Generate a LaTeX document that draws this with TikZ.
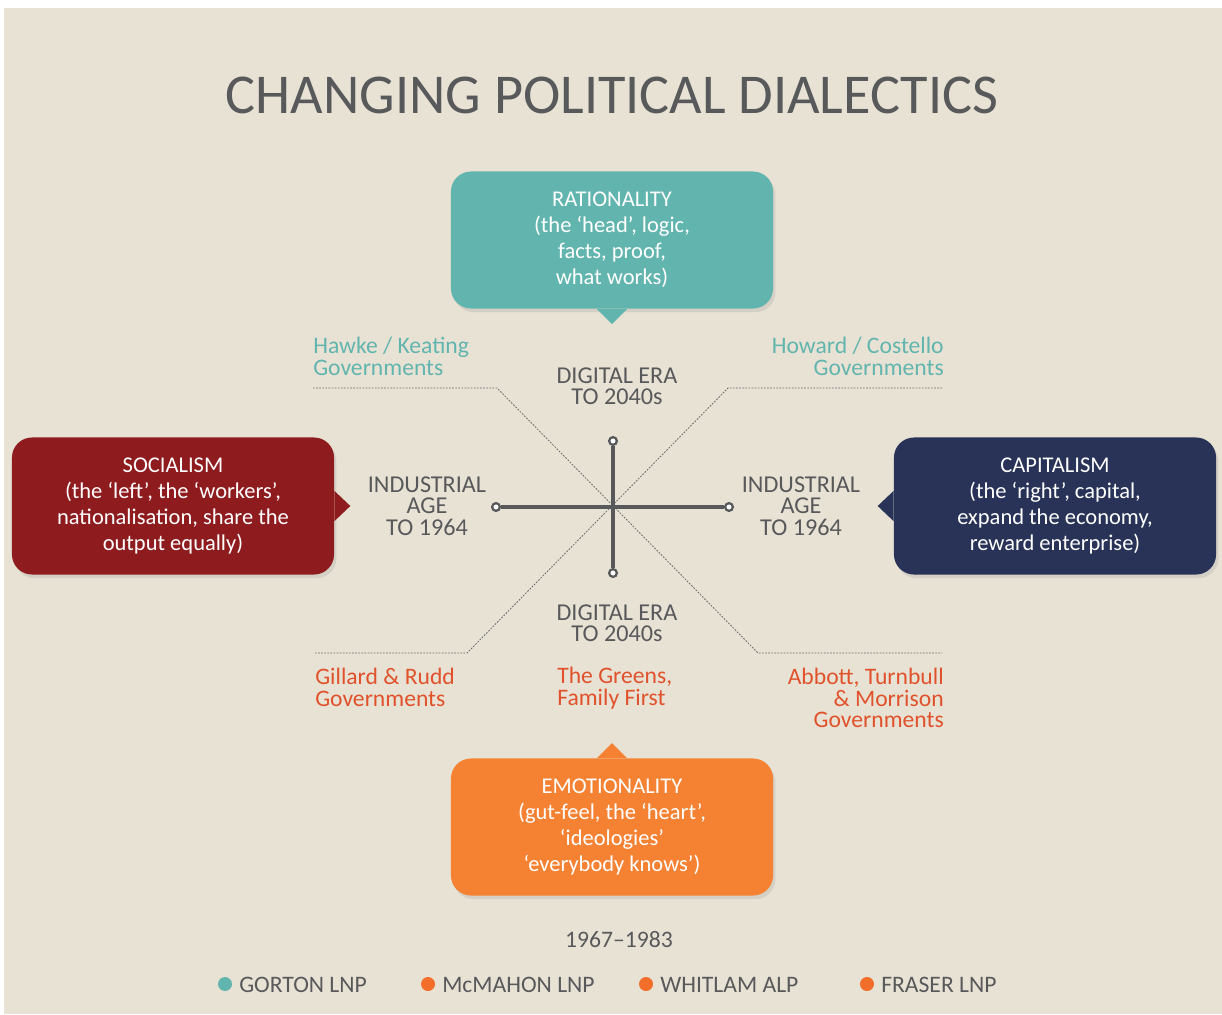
\documentclass[tikz,border=0pt]{standalone}
\usepackage{fontspec}
\setmainfont{Carlito}
\usepackage{xcolor}
\usetikzlibrary{shapes,arrows.meta,positioning,shadows}
\definecolor{bgcolor}{RGB}{232,226,213}
\definecolor{greycolor}{RGB}{88,89,91}
\definecolor{ratcolor}{RGB}{98,181,174}
\definecolor{soccolor}{RGB}{142,27,30}
\definecolor{capcolor}{RGB}{40,51,87}
\definecolor{emocolor}{RGB}{245,130,51}
\definecolor{govcolor}{RGB}{224,82,44}
\definecolor{dotcolor}{RGB}{242,110,42}

\begin{document}
\begin{tikzpicture}[
    x=0.025cm, y=-0.025cm,
    bubble/.style={rectangle, rounded corners=0.5cm, minimum width=8.05cm, minimum height=3.425cm,
        text=white, align=center, font=\fontsize{16}{18.5}\selectfont,
        drop shadow={opacity=0.18, shadow xshift=0.6mm, shadow yshift=-0.9mm}},
    era/.style={text=greycolor, align=center, font=\fontsize{17.2}{15.2}\selectfont},
    gov/.style={font=\fontsize{16.8}{15.6}\selectfont, inner sep=0pt},
    axis/.style={greycolor, line width=3.5pt},
    tip/.style={circle, draw=greycolor, fill=white, line width=1.6pt, inner sep=0pt, minimum size=5.5pt},
    guide/.style={greycolor!90, line width=0.6pt, dash pattern=on 1.2pt off 1pt},
    legend/.style={text=greycolor, font=\fontsize{16.8}{16.8}\selectfont, inner sep=0pt, anchor=west}
]
\fill[white] (0,0) rectangle (1222,1014);
\fill[bgcolor] (4,8) rectangle (1222,1014);

\node[text=greycolor, font=\fontsize{40}{42}\selectfont] (title) at (612,95) {CHANGING POLITICAL DIALECTICS};

% the four bubbles
\node[bubble, fill=ratcolor] (rat) at (612,240) {RATIONALITY\\(the ‘head’, logic,\\facts, proof,\\what works)};
\node[bubble, fill=soccolor] (soc) at (173,506) {SOCIALISM\\(the ‘left’, the ‘workers’,\\nationalisation, share the\\output equally)};
\node[bubble, fill=capcolor] (cap) at (1055,506) {CAPITALISM\\(the ‘right’, capital,\\expand the economy,\\reward enterprise)};
\node[bubble, fill=emocolor] (emo) at (612,827) {EMOTIONALITY\\(gut-feel, the ‘heart’,\\‘ideologies’\\‘everybody knows’)};

\fill[ratcolor] ([xshift=-0.38cm]rat.south) -- ([yshift=-0.38cm]rat.south) -- ([xshift=0.38cm]rat.south) -- cycle;
\fill[soccolor] ([yshift=0.38cm]soc.east) -- ([xshift=0.4cm]soc.east) -- ([yshift=-0.38cm]soc.east) -- cycle;
\fill[capcolor] ([yshift=0.38cm]cap.west) -- ([xshift=-0.4cm]cap.west) -- ([yshift=-0.38cm]cap.west) -- cycle;
\fill[emocolor] ([xshift=-0.38cm]emo.north) -- ([yshift=0.38cm]emo.north) -- ([xshift=0.38cm]emo.north) -- cycle;

% dotted guides through the centre
\coordinate (mid) at (613,507);
\coordinate (tl) at (497,388);
\coordinate (tr) at (728,388);
\coordinate (bl) at (467,653);
\coordinate (br) at (758,653);
\coordinate (tlend) at (313,388);
\coordinate (trend) at (942,388);
\coordinate (blend) at (315,653);
\coordinate (brend) at (942,653);
\draw[guide] (tlend) -- (tl) -- (br) -- (brend);
\draw[guide] (trend) -- (tr) -- (bl) -- (blend);

% the cross
\node[tip] (up) at (613,441) {};
\node[tip] (down) at (613,573) {};
\node[tip] (left) at (496,507) {};
\node[tip] (right) at (729,507) {};
\draw[axis] (up) -- (down);
\draw[axis] (left) -- (right);

% era labels
\node[era] (eratop) at (617,386) {DIGITAL ERA\\TO 2040s};
\node[era] (erabot) at (617,623) {DIGITAL ERA\\TO 2040s};
\node[era] (ageleft) at (427,506) {INDUSTRIAL\\AGE\\TO 1964};
\node[era] (ageright) at (801,506) {INDUSTRIAL\\AGE\\TO 1964};

% governments
\node[gov, text=ratcolor, align=left, anchor=south west] (hawke) at ([yshift=0.3cm]tlend) {Hawke / Keating\\Governments};
\node[gov, text=ratcolor, align=right, anchor=south east] (howard) at ([xshift=0.05cm, yshift=0.3cm]trend) {Howard / Costello\\Governments};
\node[gov, text=govcolor, align=left, anchor=north west] (gillard) at ([yshift=-0.36cm]blend) {Gillard \& Rudd\\Governments};
\node[gov, text=govcolor, align=left, anchor=north west] (greens) at (557,667) {The Greens,\\Family First};
\node[gov, text=govcolor, align=right, anchor=north east] (abbott) at ([xshift=0.05cm, yshift=-0.36cm]brend) {Abbott, Turnbull\\\& Morrison\\Governments};

% years and legend
\node[text=greycolor, font=\fontsize{16.8}{16.8}\selectfont] (years) at (619,940) {1967–1983};
\fill[ratcolor] (225,984) circle (7);
\node[legend] (gorton) at (239,985) {GORTON LNP};
\fill[dotcolor] (428,984) circle (7);
\node[legend] (mcmahon) at (442,985) {McMAHON LNP};
\fill[dotcolor] (646,984) circle (7);
\node[legend] (whitlam) at (660,985) {WHITLAM ALP};
\fill[dotcolor] (867,984) circle (7);
\node[legend] (fraser) at (881,985) {FRASER LNP};
\end{tikzpicture}
\end{document}
